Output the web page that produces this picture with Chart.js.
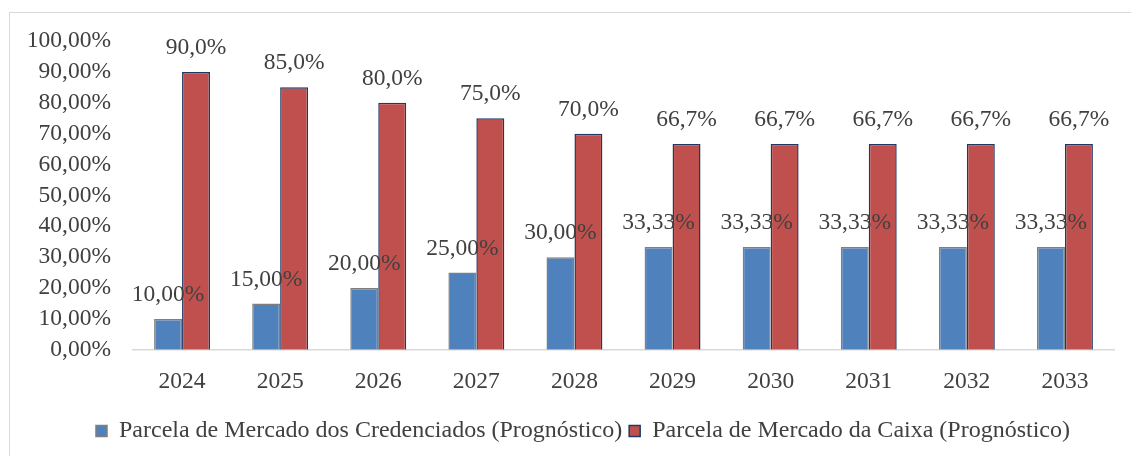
<!DOCTYPE html>
<html>
<head>
<meta charset="utf-8">
<script src="https://cdn.jsdelivr.net/npm/chart.js@4"></script>
<style>
  html, body { margin: 0; padding: 0; background: #fff; overflow: hidden; }
  #wrap { position: relative; width: 1131px; height: 456px; }
  #frame { position: absolute; left: 9px; top: 12px; width: 1200px; height: 500px; border: 1px solid #d9d9d9; }
  canvas { position: absolute; left: 0; top: 0; }
</style>
</head>
<body>
<div id="wrap">
  <div id="frame"></div>
  <canvas id="Chart1" width="1131" height="456"></canvas>
</div>
<script>
// =========== data
const categories = ["2024", "2025", "2026", "2027", "2028", "2029", "2030", "2031", "2032", "2033"];
const credenciados = [10, 15, 20, 25, 30, 33.33, 33.33, 33.33, 33.33, 33.33];
const caixa = [90, 85, 80, 75, 70, 66.67, 66.67, 66.67, 66.67, 66.67];
const yTicks = [0, 10, 20, 30, 40, 50, 60, 70, 80, 90, 100];

const FONT = "'Liberation Serif', 'Times New Roman', serif";
const TEXT = "#404040";
const SIZE = 23.5;

const comma = (v, d) => v.toFixed(d).replace(".", ",");

// value labels above the bars
const barLabels = {
    id: "barLabels",
    afterLayout(chart) {
        // legend sits a bit right of centre and slightly higher in the original
        chart.legend.left += 52;
        chart.legend.top -= 2;
        chart.legend.bottom -= 2;
    },
    afterDatasetsDraw(chart) {
        const ctx = chart.ctx;
        ctx.save();
        ctx.font = SIZE + "px " + FONT;
        ctx.fillStyle = TEXT;
        ctx.textAlign = "center";
        ctx.textBaseline = "middle";
        chart.data.datasets.forEach((ds, i) => {
            const meta = chart.getDatasetMeta(i);
            meta.data.forEach((bar, j) => {
                const txt = comma(ds.data[j], i === 0 ? 2 : 1) + "%";
                ctx.fillText(txt, bar.x, bar.y - 24);
            });
        });
        ctx.restore();
    },
};

const ctx1 = document.getElementById("Chart1").getContext("2d");
const chart1 = new Chart(ctx1, {
    type: "bar",
    data: {
        labels: categories,
        datasets: [
            {
                label: "Parcela de Mercado dos Credenciados (Prognóstico)",
                data: credenciados,
                backgroundColor: "#4F81BD",
                borderColor: "#7F7F7F",
                borderWidth: 1.5,
                borderSkipped: "bottom",
            },
            {
                label: "Parcela de Mercado da Caixa (Prognóstico)",
                data: caixa,
                backgroundColor: "#C0504D",
                borderColor: "#1F3864",
                borderWidth: 1.5,
                borderSkipped: "bottom",
            },
        ],
    },
    options: {
        responsive: false,
        animation: false,
        barPercentage: 1,
        categoryPercentage: 0.57,
        layout: {
            padding: { top: 41, right: 17, bottom: 1, left: 0 },
        },
        plugins: {
            tooltip: { enabled: false },
            title: { display: false },
            legend: {
                position: "bottom",
                labels: {
                    color: TEXT,
                    font: { family: FONT, size: 24 },
                    boxWidth: 11,
                    boxHeight: 11,
                    padding: 7,
                },
            },
        },
        scales: {
            y: {
                min: 0,
                max: 100,
                afterFit(scale) { scale.width = 133; },
                afterBuildTicks(scale) { scale.ticks = yTicks.map(v => ({ value: v })); },
                grid: { display: false, drawTicks: false },
                border: { display: false },
                ticks: {
                    autoSkip: false,
                    color: TEXT,
                    padding: 22,
                    font: { family: FONT, size: SIZE },
                    callback: v => comma(v, 2) + "%",
                },
            },
            x: {
                grid: { display: false, drawTicks: false },
                border: { display: true, color: "#d9d9d9", width: 1.5 },
                ticks: {
                    color: TEXT,
                    padding: 18,
                    font: { family: FONT, size: SIZE },
                },
            },
        },
    },
    plugins: [barLabels],
});
</script>
</body>
</html>
